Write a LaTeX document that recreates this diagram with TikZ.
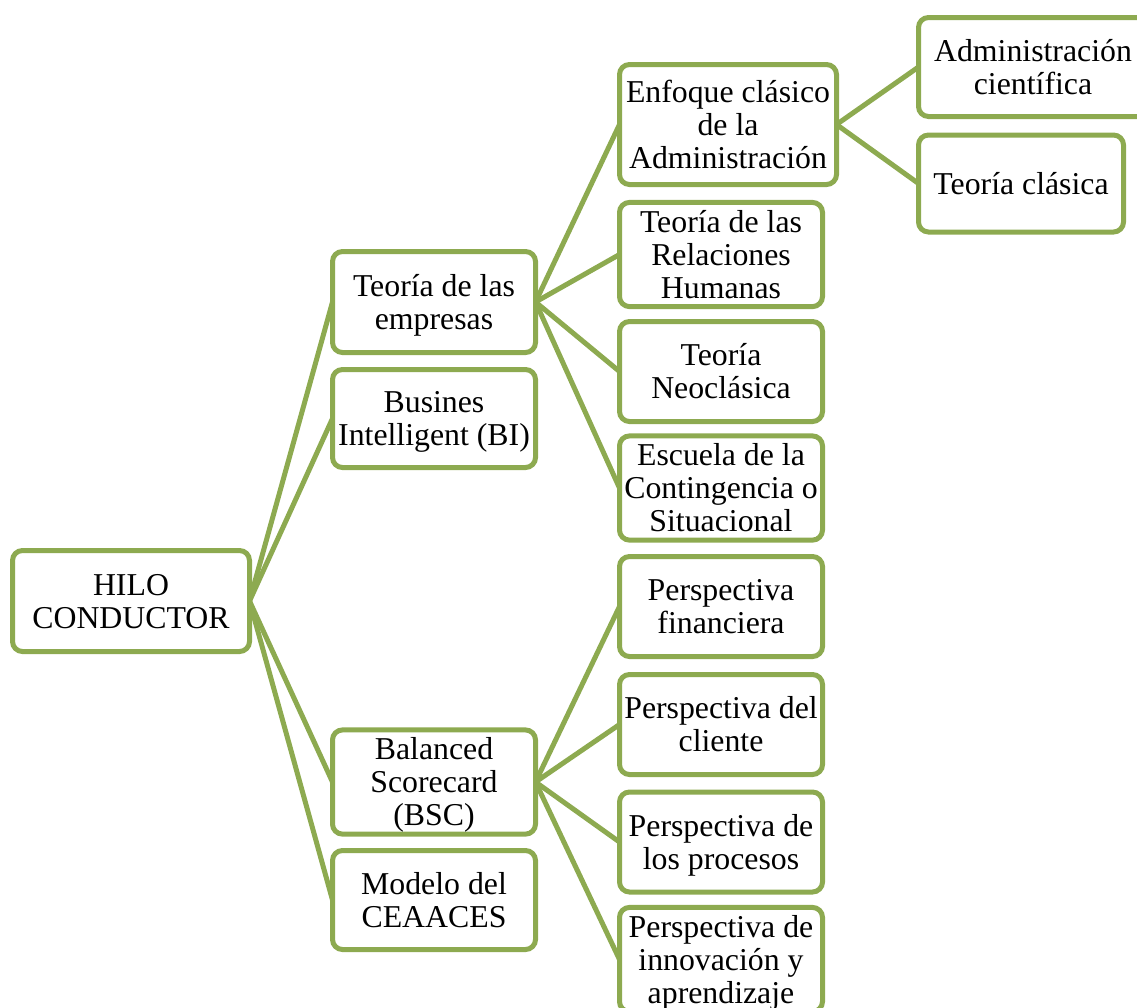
\documentclass[tikz,border=0pt]{standalone}
\usepackage{fontspec}
\setmainfont{Liberation Serif}
\usetikzlibrary{backgrounds}
\definecolor{olivebox}{RGB}{141,170,80}
% fixed ascent for the first line and descent for the last one,
% so every box centres its lines alike whatever letters they hold
\newcommand{\firstln}{\rule{0pt}{30pt}}
\tikzset{
  box/.style={draw=olivebox, line width=5pt, rounded corners=10pt, fill=white,
    align=center, inner sep=0pt, outer sep=0pt,
    font=\fontsize{31.8}{33}\selectfont,
    execute at end node={\rule[-8.2pt]{0pt}{8.2pt}}},
  link/.style={draw=olivebox, line width=5pt},
}
\begin{document}
\begin{tikzpicture}[x=1pt,y=-1pt]
\useasboundingbox (0,0) rectangle (1137,1007);
\clip (0,0) rectangle (1137,1007);

% root
\node[box, minimum width=237, minimum height=101] (root) at (131,601) {\firstln HILO\\CONDUCTOR};

% second level
\node[box, minimum width=203, minimum height=101] (emp) at (434,302) {\firstln Teoría de las\\empresas};
\node[box, minimum width=203, minimum height=98] (bi) at (434,418.5) {\firstln Busines\\Intelligent (BI)};
\node[box, minimum width=203, minimum height=99] (bsc) at (434,782) {\firstln Balanced\\Scorecard\\(BSC)};
\node[box, minimum width=203, minimum height=99] (ceaaces) at (434,900) {\firstln Modelo del\\CEAACES};

% third level, business theories
\node[box, minimum width=217, minimum height=120] (enf) at (728,124.5) {\firstln Enfoque clásico\\de la\\Administración};
\node[box, minimum width=203, minimum height=100] (rrhh) at (721,254.5) {\firstln Teoría de las\\Relaciones\\Humanas};
\node[box, minimum width=203, minimum height=100] (neo) at (721,371.5) {\firstln Teoría\\Neoclásica};
\node[box, minimum width=203, minimum height=100] (cont) at (721,488) {\firstln Escuela de la\\Contingencia o\\Situacional};

% third level, scorecard perspectives
\node[box, minimum width=203, minimum height=100] (fin) at (721,606.5) {\firstln Perspectiva\\financiera};
\node[box, minimum width=203, minimum height=100] (cli) at (721,724.5) {\firstln Perspectiva del\\cliente};
\node[box, minimum width=203, minimum height=100] (proc) at (721,842) {\firstln Perspectiva de\\los procesos};
\node[box, minimum width=203, minimum height=100] (inn) at (721,959.5) {\firstln Perspectiva de\\innovación y\\aprendizaje};

% fourth level
\node[box, minimum width=229, minimum height=99] (cient) at (1033,67) {\firstln Administración\\científica};
\node[box, minimum width=205, minimum height=97] (clas) at (1021,183.5) {\firstln Teoría clásica};

% connectors
\begin{scope}[on background layer]
\foreach \c in {emp,bi,bsc,ceaaces}
  \draw[link] (root.east) -- (\c.west);
\foreach \c in {enf,rrhh,neo,cont}
  \draw[link] (emp.east) -- (\c.west);
\foreach \c in {fin,cli,proc,inn}
  \draw[link] (bsc.east) -- (\c.west);
\foreach \c in {cient,clas}
  \draw[link] (enf.east) -- (\c.west);
\end{scope}
\end{tikzpicture}
\end{document}
